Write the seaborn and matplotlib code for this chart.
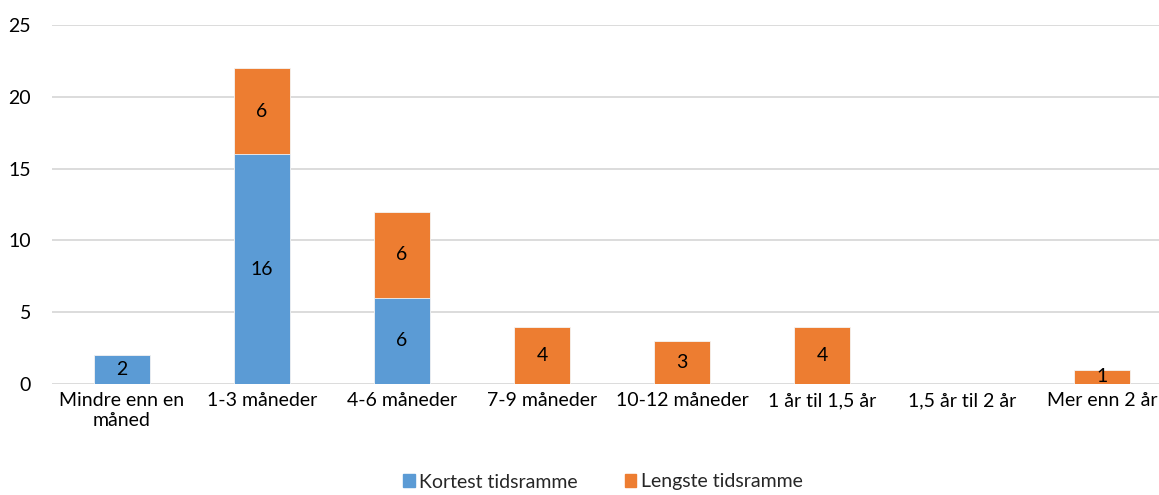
import matplotlib
matplotlib.use("Agg")
import matplotlib.pyplot as plt
import seaborn as sns
import numpy as np
from matplotlib.patches import Patch

categories = ["Mindre enn en\nmåned", "1-3 måneder", "4-6 måneder", "7-9 måneder",
              "10-12 måneder", "1 år til 1,5 år", "1,5 år til 2 år", "Mer enn 2 år"]
kortest = [2, 16, 6, 0, 0, 0, 0, 0]
lengste = [0, 6, 6, 4, 3, 4, 0, 1]

blue = "#5B9BD5"
orange = "#ED7D31"

sns.set_style("white")
plt.rcParams['font.family'] = ['Lato', 'DejaVu Sans']
fs = 14

fig = plt.figure(figsize=(11.59, 4.95), dpi=100)
ax = fig.add_axes([52 / 1159, 111 / 495, 1120 / 1159, 359 / 495])

totals = np.array(kortest) + np.array(lengste)
# stacked look: draw totals in orange, then the shorter series on top in blue
sns.barplot(x=categories, y=totals, color=orange, width=0.4, saturation=1, ax=ax, zorder=3,
            edgecolor="#F4F4F4", linewidth=0.6)
sns.barplot(x=categories, y=kortest, color=blue, width=0.4, saturation=1, ax=ax, zorder=3,
            edgecolor="#F4F4F4", linewidth=0.6)

for i, (k, l) in enumerate(zip(kortest, lengste)):
    if k > 0:
        ax.text(i, k / 2, str(k), ha="center", va="center", fontsize=fs, color="#000000", zorder=4)
    if l > 0:
        ax.text(i, k + l / 2, str(l), ha="center", va="center", fontsize=fs, color="#000000", zorder=4)

ax.set_ylim(0, 25)
ax.set_xlim(-0.5, len(categories) - 0.5)
ax.set_yticks(range(0, 26, 5))
ax.yaxis.grid(True, color="#D9D9D9", linewidth=1.3, zorder=0)
ax.set_axisbelow(True)
for s in ax.spines.values():
    s.set_visible(False)
ax.tick_params(axis="both", length=0, labelsize=fs, colors="#000000")
ax.tick_params(axis="y", pad=15)
ax.tick_params(axis="x", pad=6)
ax.set_xlabel("")
ax.set_ylabel("")

handles = [Patch(color=blue, label="Kortest tidsramme"), Patch(color=orange, label="Lengste tidsramme")]
fig.legend(handles=handles, loc="center", bbox_to_anchor=(603 / 1159, 1 - 482 / 495), ncol=2, frameon=False,
           fontsize=fs, handlelength=0.6, handleheight=0.6, handletextpad=0.25, columnspacing=2.4)

fig.savefig("out.png", dpi=100)
